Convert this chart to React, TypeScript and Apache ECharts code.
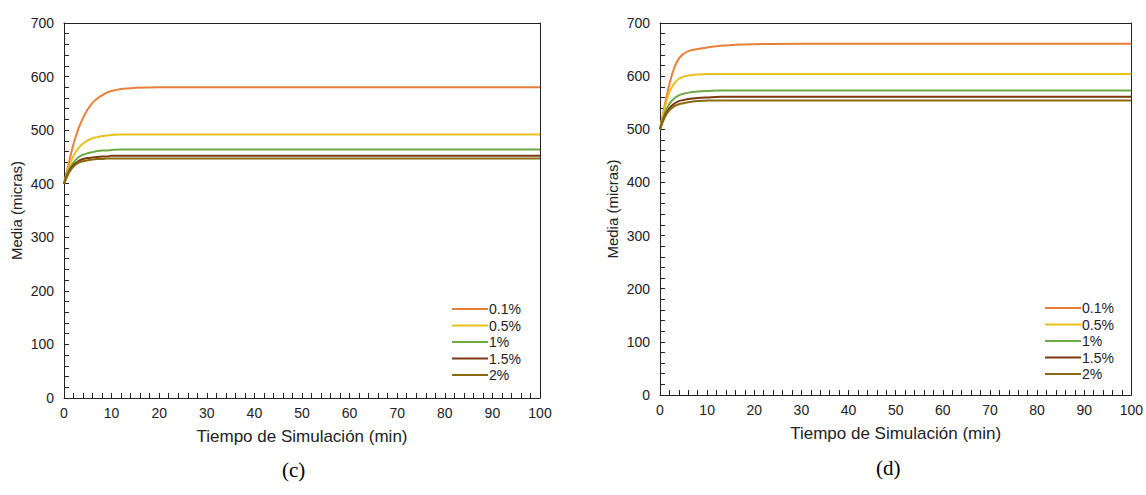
import React, { useEffect, useRef } from "react";
import * as echarts from "echarts";

const seriesNames = ["0.1%", "0.5%", "1%", "1.5%", "2%"];
const seriesColors = ["#E8803A", "#E8C21C", "#6DAA45", "#7A3A12", "#8A6A10"];

// Panel (c)
const timeC = [0, 1, 2, 3, 4, 5, 6, 7, 8, 9, 10, 12, 15, 20, 30, 50, 70, 100];
const c01 = [400, 438, 474, 502, 523, 539, 551, 559, 565, 570, 573, 577, 579, 580, 580, 580, 580, 580];
const c05 = [400, 430, 452, 466, 475, 481, 485, 487, 489, 490, 491, 492, 492, 492, 492, 492, 492, 492];
const c1 = [400, 425, 440, 449, 454, 457, 459, 461, 462, 462, 463, 464, 464, 464, 464, 464, 464, 464];
const c15 = [400, 422, 435, 442, 446, 448, 449, 450, 451, 451, 452, 452, 452, 452, 452, 452, 452, 452];
const c2 = [400, 420, 432, 439, 442, 444, 445, 446, 446, 447, 447, 447, 447, 447, 447, 447, 447, 447];

// Panel (d)
const timeD = [0, 1, 2, 3, 4, 5, 6, 8, 10, 13, 16, 20, 30, 50, 70, 100];
const d01 = [500, 545, 585, 615, 633, 642, 647, 651, 654, 657, 659, 660, 661, 661, 661, 661];
const d05 = [500, 540, 570, 586, 595, 599, 601, 603, 604, 604, 604, 604, 604, 604, 604, 604];
const d1 = [500, 530, 548, 558, 564, 567, 569, 571, 572, 573, 573, 573, 573, 573, 573, 573];
const d15 = [500, 525, 540, 548, 553, 555, 557, 559, 560, 561, 561, 561, 561, 561, 561, 561];
const d2 = [500, 522, 536, 543, 547, 549, 551, 553, 554, 554, 554, 554, 554, 554, 554, 554];

const xTicks = { min: 0, max: 100, interval: 10 };
const yTicks = { min: 0, max: 700, interval: 100 };
const xTitle = "Tiempo de Simulación (min)";
const yTitle = "Media (micras)";
const captions = ["(c)", "(d)"];

const zip = (xs: number[], ys: number[]) => xs.map((x, i) => [x, ys[i]]);

export default function App() {
  const ref = useRef<HTMLDivElement>(null);
  useEffect(() => {
    if (!ref.current) return;
    const chart = echarts.init(ref.current, undefined, { renderer: "svg" });
    const font = "Liberation Sans, Arial, sans-serif";
    const tickStyle = { color: "#222", width: 1 };
    const lineStyle = { color: "#222", width: 1 };
    const mkX = (gi: number) => ({
      type: "value" as const,
      gridIndex: gi,
      position: "bottom" as const,
      min: xTicks.min,
      max: xTicks.max,
      interval: xTicks.interval,
      name: xTitle,
      nameLocation: "middle" as const,
      nameGap: 30,
      nameTextStyle: { fontFamily: font, fontSize: 17, color: "#222" },
      axisLine: { show: true, onZero: false, lineStyle },
      axisTick: { show: true, inside: true, length: 5, lineStyle: tickStyle },
      minorTick: { show: true, splitNumber: 5, length: 5, lineStyle: tickStyle },
      axisLabel: { show: true, fontFamily: font, fontSize: 14, color: "#222", margin: 8 },
      splitLine: { show: false },
    });
    const mkXTop = (gi: number) => ({
      type: "value" as const,
      gridIndex: gi,
      position: "top" as const,
      min: xTicks.min,
      max: xTicks.max,
      interval: xTicks.interval,
      axisLine: { show: true, onZero: false, lineStyle },
      axisTick: { show: false },
      axisLabel: { show: false },
      splitLine: { show: false },
    });
    const mkY = (gi: number) => ({
      type: "value" as const,
      gridIndex: gi,
      position: "left" as const,
      min: yTicks.min,
      max: yTicks.max,
      interval: yTicks.interval,
      name: yTitle,
      nameLocation: "middle" as const,
      nameGap: 40,
      nameTextStyle: { fontFamily: font, fontSize: 15, color: "#222" },
      axisLine: { show: true, onZero: false, lineStyle },
      axisTick: { show: true, inside: true, length: 5, lineStyle: tickStyle },
      minorTick: { show: true, splitNumber: 5, length: 5, lineStyle: tickStyle },
      axisLabel: { show: true, fontFamily: font, fontSize: 14, color: "#222", margin: 10 },
      splitLine: { show: false },
    });
    const mkYRight = (gi: number) => ({
      type: "value" as const,
      gridIndex: gi,
      position: "right" as const,
      min: yTicks.min,
      max: yTicks.max,
      interval: yTicks.interval,
      axisLine: { show: true, onZero: false, lineStyle },
      axisTick: { show: false },
      axisLabel: { show: false },
      splitLine: { show: false },
    });
    const dataC = [c01, c05, c1, c15, c2];
    const dataD = [d01, d05, d1, d15, d2];
    const series: any[] = [];
    dataC.forEach((ys, i) =>
      series.push({
        type: "line",
        name: seriesNames[i],
        xAxisIndex: 0,
        yAxisIndex: 0,
        data: zip(timeC, ys),
        smooth: 0.4,
        symbol: "none",
        lineStyle: { width: 2, color: seriesColors[i] },
        itemStyle: { color: seriesColors[i] },
      })
    );
    dataD.forEach((ys, i) =>
      series.push({
        type: "line",
        name: seriesNames[i],
        xAxisIndex: 1,
        yAxisIndex: 1,
        data: zip(timeD, ys),
        smooth: 0.4,
        symbol: "none",
        lineStyle: { width: 2, color: seriesColors[i] },
        itemStyle: { color: seriesColors[i] },
      })
    );
    const mkLegend = (left: number, top: number) => ({
      orient: "vertical" as const,
      left,
      top,
      padding: 0,
      icon: "rect",
      itemWidth: 36,
      itemHeight: 2,
      itemGap: 2.5,
      selectedMode: false,
      data: seriesNames,
      textStyle: { fontFamily: font, fontSize: 14, color: "#222", padding: [0, 0, 0, -4] },
    });
    chart.setOption({
      animation: false,
      backgroundColor: "#fff",
      grid: [
        { left: 64, top: 23, width: 476, height: 375, show: false },
        { left: 660, top: 23, width: 472, height: 372, show: false },
      ],
      xAxis: [mkX(0), mkX(1), mkXTop(0), mkXTop(1)],
      yAxis: [mkY(0), mkY(1), mkYRight(0), mkYRight(1)],
      legend: [mkLegend(452, 302), mkLegend(1045, 301)],
      series,
      graphic: [
        {
          type: "text",
          left: 294 - 12,
          top: 459,
          style: { text: captions[0], font: "21px 'Liberation Serif', 'Times New Roman', serif", fill: "#000" },
        },
        {
          type: "text",
          left: 888 - 12,
          top: 457,
          style: { text: captions[1], font: "21px 'Liberation Serif', 'Times New Roman', serif", fill: "#000" },
        },
      ],
    });
    return () => chart.dispose();
  }, []);
  return (
    <div
      ref={ref}
      style={{ position: "fixed", left: 0, top: 0, width: 1146, height: 495 }}
    />
  );
}
